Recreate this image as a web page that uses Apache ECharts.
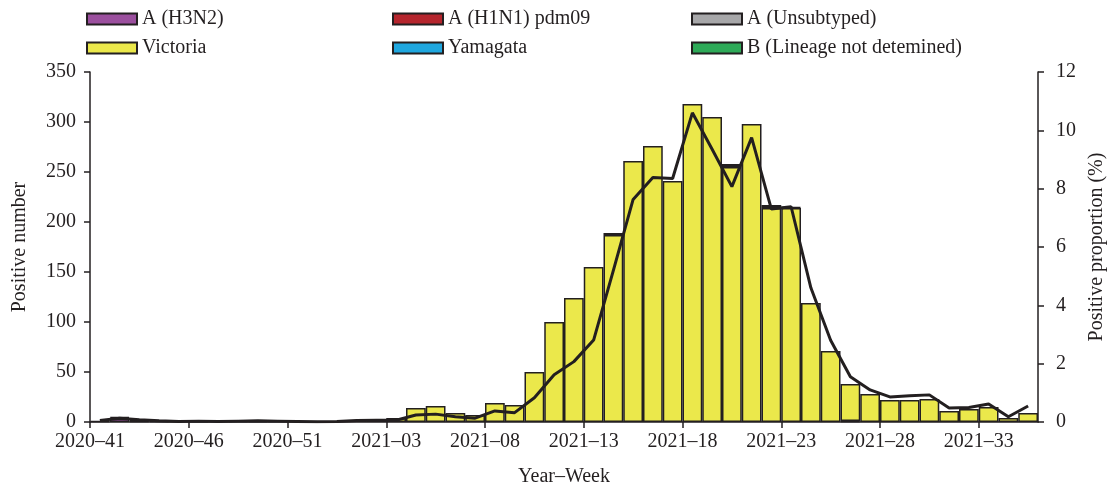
<!DOCTYPE html>
<html>
<head>
<meta charset="utf-8">
<script src="https://cdn.jsdelivr.net/npm/echarts@6/dist/echarts.min.js"></script>
<style>html,body{margin:0;padding:0;background:#fff}#c{width:1107px;height:487px}</style>
</head>
<body>
<div id="c"></div>
<script>
const weeks = ['2020–41','2020–42','2020–43','2020–44','2020–45','2020–46','2020–47','2020–48','2020–49','2020–50','2020–51','2020–52','2020–53',
  '2021–01','2021–02','2021–03','2021–04','2021–05','2021–06','2021–07','2021–08','2021–09','2021–10','2021–11','2021–12','2021–13','2021–14','2021–15',
  '2021–16','2021–17','2021–18','2021–19','2021–20','2021–21','2021–22','2021–23','2021–24','2021–25','2021–26','2021–27','2021–28','2021–29','2021–30',
  '2021–31','2021–32','2021–33','2021–34','2021–35'];
// boundary labels (left edge of each week), plus the closing edge
const boundaryLabels = weeks.concat(['2021–36']);

const h3n2 =        [0,4,1,0,0,0,0,0,0,0,0,0,0, 0,0,0,0,0,0,0,0,0,0,0,0,0,0,0,0,0,0,0,0,0,0,0,0,0,0,0,0,0,0,0,0,0,0,0];
const h1n1 =        [0,0,0,0,0,0,0,0,0,0,0,0,0, 0,0,0,0,0,0,0,0,0,0,0,0,0,0,0,0,0,0,0,0,0,0,0,0,0,0,0,0,0,0,0,0,0,0,0];
const unsubtyped =  [0,0,0,0,0,0,0,0,0,0,0,0,0, 0,0,0,0,0,0,0,0,0,0,0,0,0,0,0,0,0,0,0,0,0,0,0,0,0,1,0,0,0,0,0,0,0,0,0];
const victoria =    [1,1,1,1,0,1,0,1,1,1,0,0,0, 2,3,4,14,16,9,7,19,17,50,100,124,155,187,261,276,241,318,305,255,298,214,214,119,71,37,28,22,22,23,11,13,15,4,9];
const yamagata =    [0,0,0,0,0,0,0,0,0,0,0,0,0, 0,0,0,0,0,0,0,0,0,0,0,0,0,2,0,0,0,0,0,3,0,0,0,0,0,0,0,0,0,0,0,0,0,0,0];
const bLineage =    [0,0,0,0,0,0,0,0,0,0,0,0,0, 0,0,0,0,0,0,0,0,0,0,0,0,0,0,0,0,0,0,0,0,0,3,1,0,0,0,0,0,0,0,0,0,0,0,0];
const proportion =  [0.05,0.13,0.08,0.04,0.02,0.03,0.02,0.03,0.04,0.03,0.02,0.01,0.02,
  0.05,0.06,0.06,0.24,0.27,0.18,0.13,0.38,0.32,0.83,1.62,2.07,2.81,5.2,7.63,8.38,8.35,10.6,9.35,8.07,9.75,7.3,7.38,4.6,2.8,1.55,1.1,0.86,0.9,0.93,0.48,0.5,0.62,0.18,0.55];

const leftTicks = {min:0, max:350, interval:50};
const rightTicks = {min:0, max:12, interval:2};

const FONT = "'Liberation Serif','Times New Roman',serif";
const TXT = '#231f20';
const nz = arr => arr.map(v => v === 0 ? '-' : v);

const seriesDefs = [
  {name:'A (H3N2)', data:h3n2, color:'#9b4f9e'},
  {name:'A (H1N1) pdm09', data:h1n1, color:'#b5252d'},
  {name:'A (Unsubtyped)', data:unsubtyped, color:'#a7a7a9'},
  {name:'Victoria', data:victoria, color:'#ebe84b'},
  {name:'Yamagata', data:yamagata, color:'#1fa7df'},
  {name:'B (Lineage not detemined)', data:bLineage, color:'#2eaa58'}
];

const legendPos = [
  {left:86, top:9},{left:392, top:9},{left:691, top:9},
  {left:86, top:38},{left:392, top:38},{left:691, top:38}
];

const chart = echarts.init(document.getElementById('c'), null, {renderer:'canvas'});
chart.setOption({
  animation:false,
  textStyle:{fontFamily:FONT, color:TXT},
  grid:{left:90, right:69, top:72, bottom:65, containLabel:false, outerBoundsMode:'none'},
  legend: seriesDefs.map((s,i)=>({
    data:[s.name], left:legendPos[i].left, top:legendPos[i].top,
    itemWidth:50, itemHeight:11, icon:'rect', selectedMode:false, padding:0,
    textStyle:{fontFamily:FONT, fontSize:20, color:TXT}
  })),
  xAxis:[
    {type:'category', data:weeks, boundaryGap:true, position:'bottom',
     axisLine:{lineStyle:{color:TXT, width:1.5}}, axisTick:{show:false}, axisLabel:{show:false}},
    {type:'category', data:boundaryLabels, boundaryGap:false, position:'bottom',
     axisLine:{show:false},
     axisTick:{show:true, interval:4, length:6, lineStyle:{color:TXT, width:1.5}},
     axisLabel:{interval:4, fontSize:20, color:TXT, fontFamily:FONT, margin:10,
       formatter:(v)=>v==='2021–36'?'':v},
     name:'Year–Week', nameLocation:'middle', nameGap:45,
     nameTextStyle:{fontSize:20, color:TXT, fontFamily:FONT}}
  ],
  yAxis:[
    {type:'value', min:leftTicks.min, max:leftTicks.max, interval:leftTicks.interval, position:'left',
     splitLine:{show:false},
     axisLine:{show:true, lineStyle:{color:TXT, width:1.5}},
     axisTick:{show:true, length:6, lineStyle:{color:TXT, width:1.5}},
     axisLabel:{fontSize:20, color:TXT, fontFamily:FONT, margin:14},
     name:'Positive number', nameLocation:'middle', nameGap:60, nameRotate:90,
     nameTextStyle:{fontSize:20, color:TXT, fontFamily:FONT}},
    {type:'value', min:rightTicks.min, max:rightTicks.max, interval:rightTicks.interval, position:'right',
     splitLine:{show:false},
     axisLine:{show:true, lineStyle:{color:TXT, width:1.5}},
     axisTick:{show:true, length:6, lineStyle:{color:TXT, width:1.5}},
     axisLabel:{fontSize:20, color:TXT, fontFamily:FONT, margin:18},
     name:'Positive proportion (%)', nameLocation:'middle', nameGap:48, nameRotate:90,
     nameTextStyle:{fontSize:20, color:TXT, fontFamily:FONT}}
  ],
  series: seriesDefs.map(s=>({
    name:s.name, type:'bar', stack:'total', xAxisIndex:0, yAxisIndex:0,
    data:nz(s.data), barWidth:'100%', barCategoryGap:'0%',
    itemStyle:{color:s.color, borderColor:'#231f20', borderWidth:1.5}
  })).concat([{
    name:'Positive proportion', type:'line', xAxisIndex:0, yAxisIndex:1,
    data:proportion, symbol:'none', z:10,
    lineStyle:{color:'#231f20', width:3}
  }])
});
</script>
</body>
</html>
